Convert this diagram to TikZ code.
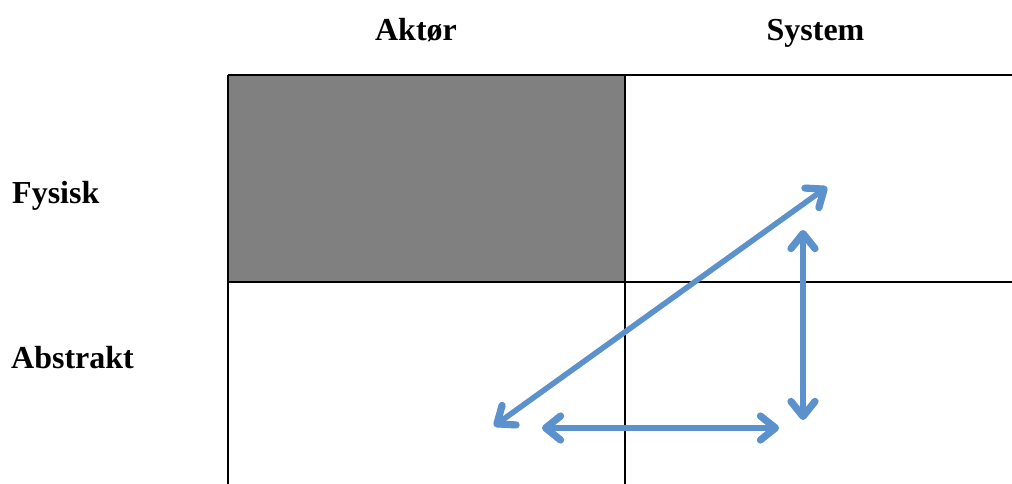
\documentclass[tikz,border=0pt]{standalone}
\usepackage{fontspec}
\setmainfont{Liberation Serif}
\usetikzlibrary{arrows.meta}
\definecolor{arrowblue}{RGB}{91,146,205}
\definecolor{cellgray}{RGB}{128,128,128}
\tikzset{
  header/.style={font=\fontsize{32}{36}\selectfont\bfseries, inner sep=0pt},
  gridline/.style={line width=2pt, black},
  tipend/.tip={Straight Barb[length=15pt,width=24pt,line width=0pt 1.3,line cap=round,line join=round]},
  darrow/.style={line width=5.5pt, arrowblue, line cap=round, line join=round, tipend-tipend},
  dshadow/.style={line width=5.5pt, black, opacity=0.12, line cap=round, tipend-tipend},
}
\begin{document}
\begin{tikzpicture}[x=1pt,y=-1pt]
\useasboundingbox (0,0) rectangle (1012,483);
\begin{scope}
\clip (0,0) rectangle (1012,483);
% cells
\fill[cellgray] (228,75) rectangle (625,282);
\draw[gridline] (228,75) -- (1014,75);
\draw[gridline] (228,282) -- (1014,282);
\draw[gridline] (228,75) -- (228,486);
\draw[gridline] (625,75) -- (625,486);
% labels
\node[header, anchor=base west] (fys) at (12,203) {Fysisk};
\node[header, anchor=base west] (abs) at (11,368) {Abstrakt};
\node[header, anchor=base] (akt) at (416,40) {Aktør};
\node[header, anchor=base] (sys) at (815.5,40) {System};
% arrow end points
\coordinate (dA) at (494,426);
\coordinate (dB) at (827,187);
\coordinate (vA) at (803,230);
\coordinate (vB) at (803,420);
\coordinate (hA) at (542,428);
\coordinate (hB) at (779,428);
% shadows
\begin{scope}[shift={(2,3)}]
\draw[dshadow] (dA) -- (dB);
\draw[dshadow] (vA) -- (vB);
\draw[dshadow] (hA) -- (hB);
\end{scope}
% arrows
\draw[darrow] (dA) -- (dB);
\draw[darrow] (vA) -- (vB);
\draw[darrow] (hA) -- (hB);
\end{scope}
\end{tikzpicture}
\end{document}
